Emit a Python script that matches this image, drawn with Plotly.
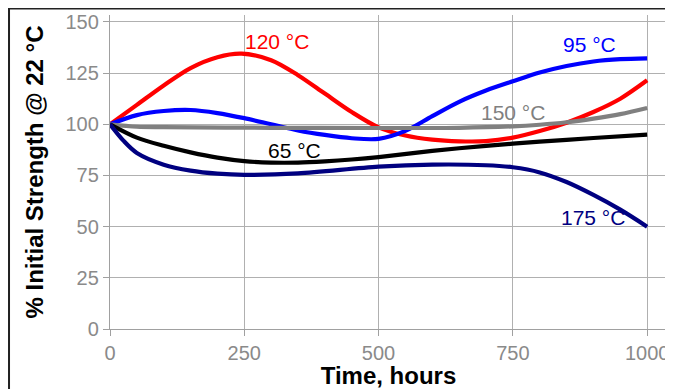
import plotly.graph_objects as go

# ---- data ----
t_120 = [0, 50, 100, 150, 200, 245, 300, 350, 400, 450, 500, 550, 600, 650, 700, 750, 800, 850, 900, 950, 1000]
v_120 = [100, 109.5, 119, 127.5, 132.8, 134.5, 131.3, 124, 115, 106, 98.5, 94.5, 92.5, 91.7, 91.8, 93.5, 96.7, 100.8, 106, 112.5, 121.5]

t_95 = [0, 50, 100, 150, 200, 250, 300, 350, 400, 450, 500, 550, 600, 650, 700, 750, 800, 850, 900, 950, 1000]
v_95 = [100, 104.5, 106.5, 107, 105.5, 103, 100, 97, 94.8, 93.2, 92.9, 96.8, 104, 111, 116.5, 121, 125.3, 128.5, 130.7, 131.8, 132.2]

t_150 = [0, 50, 100, 300, 500, 650, 750, 800, 850, 900, 950, 1000]
v_150 = [100, 98.8, 98.6, 98.3, 98.2, 98.3, 99, 99.8, 101, 102.8, 105, 108]

t_65 = [0, 50, 100, 150, 200, 250, 300, 350, 400, 450, 500, 600, 700, 800, 900, 1000]
v_65 = [100, 93.5, 89.5, 86.3, 83.7, 82, 81.3, 81.3, 81.9, 82.8, 84, 87, 89.5, 91.5, 93.3, 95]

t_175 = [0, 25, 50, 100, 150, 200, 250, 350, 500, 600, 700, 750, 800, 850, 900, 950, 1000]
v_175 = [100, 92, 86, 80.3, 77.4, 75.9, 75.3, 76, 79.3, 80.3, 80, 79, 76.5, 71.8, 65.5, 58.3, 50]

series_names = ["120 °C", "95 °C", "150 °C", "65 °C", "175 °C"]
series_t = [t_120, t_95, t_150, t_65, t_175]
series_v = [v_120, v_95, v_150, v_65, v_175]
series_colors = ["#ff0000", "#0000ff", "#808080", "#000000", "#000080"]

# label anchor positions (data coordinates)
label_t = [247, 892, 751, 343, 900]
label_v = [140.7, 139, 106, 87.2, 54.7]
label_anchor = ["left", "center", "center", "center", "center"]

x_ticks = [0, 250, 500, 750, 1000]
y_ticks = [0, 25, 50, 75, 100, 125, 150]

FONT = "Liberation Sans, Arial, sans-serif"

fig = go.Figure()
for name, t, v, c in zip(series_names, series_t, series_v, series_colors):
    fig.add_trace(go.Scatter(x=t, y=v, mode="lines", name=name,
                             line=dict(color=c, width=4.2, shape="spline", smoothing=0.9),
                             showlegend=False, hoverinfo="skip"))

for name, lt, lv, c, a in zip(series_names, label_t, label_v, series_colors, label_anchor):
    fig.add_annotation(x=lt, y=lv, text=name, showarrow=False, xanchor=a, yanchor="middle",
                       font=dict(family=FONT, size=21, color=c))

fig.add_shape(type="rect", xref="paper", yref="paper", x0=-0.1813, x1=1.2, y0=-0.4, y1=1.0207,
              line=dict(color="#222222", width=2), fillcolor="rgba(0,0,0,0)", layer="above")

axis_common = dict(showgrid=True, gridcolor="#b0b0b0", gridwidth=1.3, showline=True,
                   linecolor="#a0a0a0", linewidth=1.3, ticks="outside", ticklen=6,
                   tickcolor="#a0a0a0", tickwidth=1.3, zeroline=False, automargin=False,
                   tickfont=dict(family=FONT, size=20, color="#8a8a8a"))

fig.update_xaxes(range=[0, 1037], tickvals=x_ticks, **axis_common,
                 title=dict(text="<b>Time, hours</b>", standoff=0,
                            font=dict(family=FONT, size=24, color="#000000")))
fig.update_yaxes(range=[0, 153.4], tickvals=y_ticks, **axis_common,
                 title=dict(text="<b>% Initial Strength @ 22 °C</b>", standoff=15,
                            font=dict(family=FONT, size=24, color="#000000")))

fig.update_layout(width=665, height=381, margin=dict(l=102, r=6, t=7, b=60),
                  plot_bgcolor="white", paper_bgcolor="white")

fig.write_html("out.html")
